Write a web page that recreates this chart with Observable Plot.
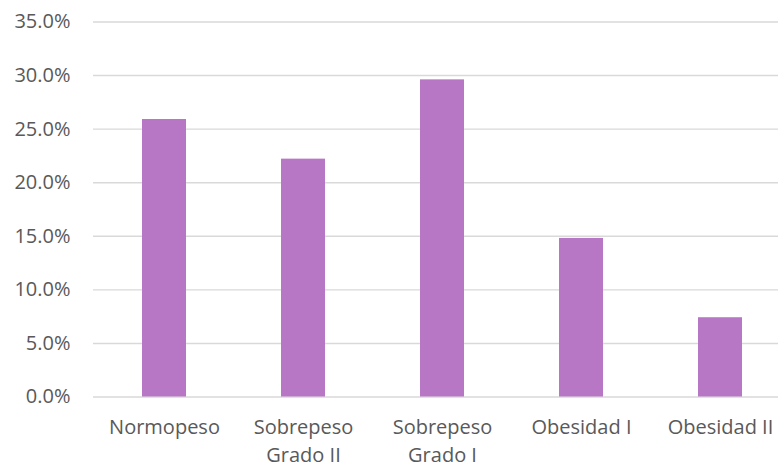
<!DOCTYPE html>
<html>
<head>
<meta charset="utf-8">
<script src="https://cdn.jsdelivr.net/npm/d3@7"></script>
<script src="https://cdn.jsdelivr.net/npm/@observablehq/plot@0.6"></script>
<style>
  html, body { margin: 0; padding: 0; background: #fff; }
  #chart svg { display: block; }
</style>
</head>
<body>
<div id="chart"></div>
<script>
const categories = ["Normopeso", "Sobrepeso\nGrado II", "Sobrepeso\nGrado I", "Obesidad I", "Obesidad II"];
const values = [25.9, 22.2, 29.6, 14.8, 7.4];
const yTicks = [0, 5, 10, 15, 20, 25, 30, 35];

const data = categories.map((c, i) => ({category: c, value: values[i]}));

const chart = Plot.plot({
  width: 778,
  height: 470,
  marginLeft: 93,
  marginRight: 0,
  marginTop: 21.5,
  marginBottom: 73.5,
  style: {fontFamily: "'Open Sans', sans-serif", fontSize: "20px", color: "#595959", background: "#fff"},
  x: {domain: categories, range: [93, 791], paddingInner: 0.687, paddingOuter: 0.3435, align: 0.5, label: null},
  y: {domain: [0, 35], ticks: yTicks, label: null},
  marks: [
    Plot.ruleY(yTicks, {stroke: "#d9d9d9", strokeWidth: 1.4}),
    Plot.barY(data, {x: "category", y: "value", fill: "#b877c4"}),
    Plot.axisY(yTicks, {tickSize: 0, tickPadding: 23, tickFormat: d => d.toFixed(1) + "%", fontSize: 20, fill: "#595959", label: null}),
    Plot.axisX({tickSize: 0, tickPadding: 18, fontSize: 20, fill: "#595959", lineHeight: 1.36, label: null})
  ]
});
document.getElementById("chart").appendChild(chart);
</script>
</body>
</html>
